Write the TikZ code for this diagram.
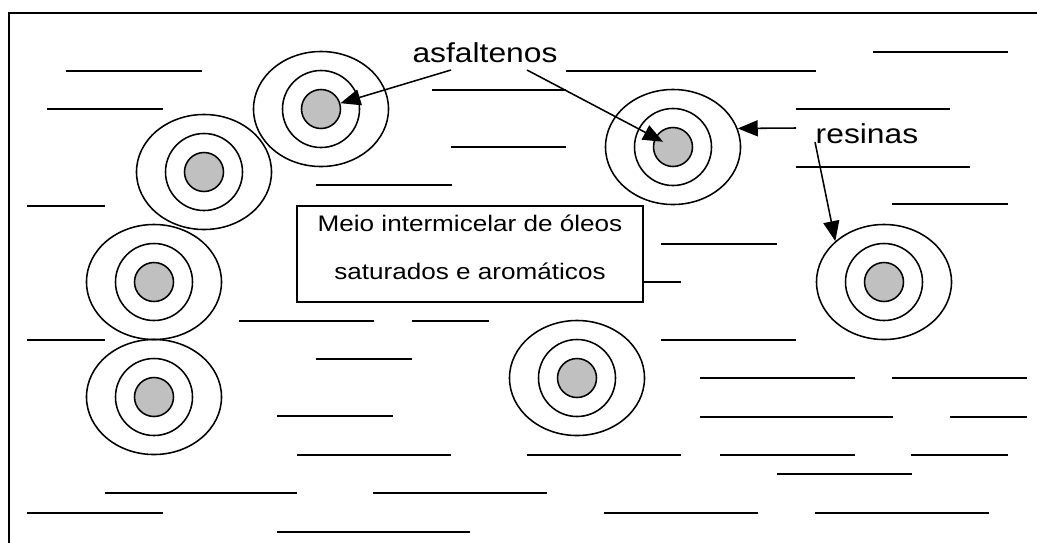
\documentclass[tikz,border=0pt]{standalone}
\usepackage{fontspec}
\setmainfont{Liberation Sans}
\usetikzlibrary{shapes.geometric,arrows.meta}
\definecolor{cinza}{RGB}{192,192,192}
\newcommand{\largo}[1]{\scalebox{1.16}[1]{#1}}
\tikzset{
  traco/.style={line width=1.1pt},
  externa/.style={draw, ellipse, line width=1.1pt, minimum width=3.375cm, minimum height=2.875cm, inner sep=0pt},
  media/.style={draw, circle, line width=1.1pt, minimum size=1.925cm, inner sep=0pt},
  nucleo/.style={draw, circle, fill=cinza, line width=1.1pt, minimum size=0.975cm, inner sep=0pt},
  rotulo/.style={font=\fontsize{19.5}{22}\selectfont, inner sep=0pt, anchor=base},
  caixa/.style={draw, fill=white, line width=1.1pt, minimum width=8.65cm, minimum height=2.4cm, inner sep=0pt},
  seta/.style={line width=1.1pt, -{Triangle[length=0.5cm, width=0.4cm]}}
}

\begin{document}
\begin{tikzpicture}[x=0.025cm, y=-0.025cm]
    \useasboundingbox (0,0) rectangle (1037,542);
    % Moldura
    \draw[line width=1.4pt] (1045,13) -- (9,13) -- (9,550);

    % Meio intermicelar
    \foreach \xa/\xb/\y in {66/202/71, 47/163/109, 27/105/206, 432/566/90, 451/566/147,
        316/452/185, 873/1008/52, 566/816/71, 796/950/109, 796/970/167, 892/1008/204,
        661/777/244, 239/374/321, 412/489/321, 27/105/340, 316/412/359, 277/393/416,
        297/451/455, 105/297/493, 373/547/493, 27/163/513, 277/470/532, 643/681/282,
        661/796/340, 700/855/378, 892/1027/378, 700/893/417, 950/1027/417, 527/681/455,
        720/855/455, 911/1008/455, 777/912/474, 604/758/513, 815/989/513}
        \draw[traco] (\xa,\y) -- (\xb,\y);

    % Micelas
    \foreach \n/\x/\y in {1/321/109, 2/204/172, 3/154/282, 4/154/397, 5/673/147, 6/884/282, 7/577/378} {
        \node[externa] (m\n) at (\x,\y) {};
        \node[media] (m\n-r) at (\x,\y) {};
        \node[nucleo] (m\n-a) at (\x,\y) {};
    }

    % Caixa
    \node[caixa] (meio) at (470,254) {};
    \node[font=\fontsize{16}{34}\selectfont, align=center, inner sep=0pt] (meio-t) at (470,247)
        {\largo{Meio intermicelar de óleos}\\\largo{saturados e aromáticos}};

    % Rotulos
    \node[rotulo] (asf) at (485,62) {\largo{asfaltenos}};
    \node[rotulo] (res) at (867,143) {\largo{resinas}};

    % Setas
    \coordinate (asf-e) at (451,70);
    \coordinate (asf-d) at (527,70);
    \coordinate (res-e) at (796,128);
    \coordinate (res-b) at (815,142);
    \draw[seta] (asf-e) -- (m1-a);
    \draw[seta, shorten >=0.28cm] (asf-d) -- (m5-a.center);
    \draw[seta] (res-e) -- (m5.16);
    \draw[seta] (res-b) -- (m6.140);
\end{tikzpicture}
\end{document}
